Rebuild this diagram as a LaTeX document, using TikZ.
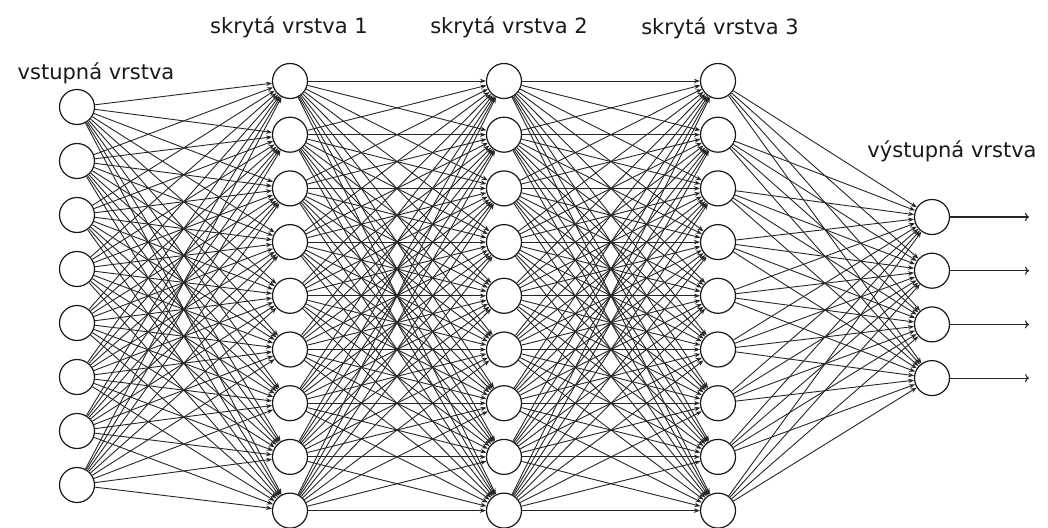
\documentclass[tikz,border=0pt]{standalone}
\usepackage{fontspec}
\setmainfont{DejaVu Sans}
\usetikzlibrary{arrows.meta}
\begin{document}
\begin{tikzpicture}[x=1pt,y=-1pt,
  neuron/.style={circle,draw=black!90,line width=1.2pt,minimum size=35pt,inner sep=0pt,fill=white},
  link/.style={draw=black!85,line width=0.9pt,-{Stealth[length=6pt,width=4.5pt]}},
  outlink/.style={draw=black!85,line width=1.1pt,-{To[length=4pt,width=8pt]}},
  layertitle/.style={font=\fontsize{21}{24}\selectfont,text=black!90,inner sep=0pt}]
\useasboundingbox (0,0) rectangle (1048,527);

% neurons
\foreach \i in {1,...,8}
  \node[neuron] (in\i) at (77,{107+54*(\i-1)}) {};
\foreach \l/\x in {1/290,2/504,3/718}
  \foreach \i in {1,...,9}
    \node[neuron] (h\l-\i) at (\x,{81+53.7*(\i-1)}) {};
\foreach \i in {1,...,4}
  \node[neuron] (out\i) at (932,{217+53.7*(\i-1)}) {};

% fully connected links
\foreach \a in {1,...,8}
  \foreach \b in {1,...,9}
    \draw[link] (in\a) -- (h1-\b);
\foreach \p/\q in {1/2,2/3}
  \foreach \a in {1,...,9}
    \foreach \b in {1,...,9}
      \draw[link] (h\p-\a) -- (h\q-\b);
\foreach \a in {1,...,9}
  \foreach \b in {1,...,4}
    \draw[link] (h3-\a) -- (out\b);

% outputs
\foreach \i in {1,...,4} {
  \coordinate (o\i) at (1029,{217+53.7*(\i-1)});
  \draw[outlink] (out\i) -- (o\i);
}

% layer titles
\node[layertitle] (t0) at (96,73) {vstupná vrstva};
\node[layertitle] (t1) at (289,27) {skrytá vrstva 1};
\node[layertitle] (t2) at (509,27) {skrytá vrstva 2};
\node[layertitle] (t3) at (720,28) {skrytá vrstva 3};
\node[layertitle] (t4) at (952,151) {výstupná vrstva};
\end{tikzpicture}
\end{document}
